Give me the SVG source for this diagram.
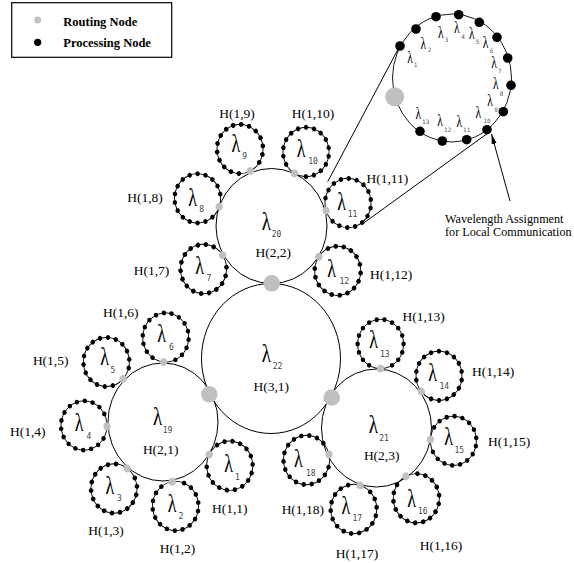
<svg xmlns="http://www.w3.org/2000/svg" xmlns:xlink="http://www.w3.org/1999/xlink" width="574" height="563" viewBox="0 0 574 563">
<style>
.lbl{font-family:"Liberation Serif","Times New Roman",serif;font-size:13.5px;fill:#000}
.lam{font-family:"Liberation Serif","Times New Roman",serif;font-size:18px;text-anchor:middle;fill:#000}
.lam2{font-size:19px}
.lamm{font-size:11.5px}
.sub{font-family:"DejaVu Sans Mono",monospace;font-size:8px;fill:#444}
.subm{font-family:"DejaVu Sans Mono",monospace;font-size:6px;fill:#555;text-anchor:middle}
.lg{font-family:"Liberation Serif","Times New Roman",serif;font-weight:bold;font-size:12.5px}
.ann{font-family:"Liberation Serif","Times New Roman",serif;font-size:12.2px}
.rn{fill:#c0c0c0}
.pn{fill:#000}
.big{fill:none;stroke:#000;stroke-width:1}
.rl{fill:none;stroke:#000;stroke-width:0.9}
.rd{fill:none;stroke:#000;stroke-width:4.5;stroke-linecap:round;stroke-dasharray:0 20 0 20 0 20 0 20 0 20 0 20 0 20 0 20 0 20 0 20 0 20 0 20 0 20 0 20 0 20 0 60;stroke-dashoffset:-30}
.ln{fill:none;stroke:#000;stroke-width:1}
</style>
<defs>
<g id="ring">
<circle r="23" class="rl"/>
<circle r="23" class="rd" pathLength="360"/>
<circle cx="23" r="3.6" class="rn"/>
</g>
<marker id="ah" markerUnits="userSpaceOnUse" markerWidth="11" markerHeight="6" refX="10" refY="3" orient="auto">
<path d="M0,0.5 L10,3 L0,5.5 z" fill="#000"/>
</marker>
</defs>

<g id="legend">
<rect x="11.7" y="2.7" width="160" height="54.6" fill="#fff" stroke="#000" stroke-width="1.2"/>
<circle cx="37.7" cy="20" r="3.5" class="rn"/>
<circle cx="37.7" cy="42.3" r="3.6" class="pn"/>
<text x="63.3" y="26" class="lg">Routing Node</text>
<text x="63.3" y="47" class="lg">Processing Node</text>
</g>

<g id="H3-1">
<ellipse cx="271" cy="358.5" rx="69.5" ry="75" class="big"/>
<text class="lam lam2" transform="translate(266.3,361.7) scale(1,1.35)">λ</text>
<text x="272.7" y="369.3" class="sub">22</text>
<text x="271.3" y="390.5" class="lbl" text-anchor="middle">H(3,1)</text>
</g>
<g id="H2-2">
<ellipse cx="271.5" cy="226" rx="55.5" ry="57.5" class="big"/>
<text class="lam lam2" transform="translate(266.3,230) scale(1,1.35)">λ</text>
<text x="271.7" y="236.7" class="sub">20</text>
<text x="273.3" y="257" class="lbl" text-anchor="middle">H(2,2)</text>
</g>
<g id="H2-1">
<ellipse cx="163" cy="422" rx="55" ry="59" class="big"/>
<text class="lam lam2" transform="translate(157.5,425) scale(1,1.35)">λ</text>
<text x="162.7" y="432.7" class="sub">19</text>
<text x="160.7" y="454.3" class="lbl" text-anchor="middle">H(2,1)</text>
</g>
<g id="H2-3">
<ellipse cx="376.5" cy="428" rx="55" ry="59" class="big"/>
<text class="lam lam2" transform="translate(373.3,433.3) scale(1,1.35)">λ</text>
<text x="379.3" y="440.7" class="sub">21</text>
<text x="381.7" y="459.7" class="lbl" text-anchor="middle">H(2,3)</text>
</g>

<g id="connectors">
<line x1="327.7" y1="181.7" x2="399.5" y2="46.5" class="ln"/>
<line x1="363" y1="223.5" x2="488" y2="133" class="ln"/>
<line x1="510" y1="201" x2="491.5" y2="134" class="ln" marker-end="url(#ah)"/>
</g>

<g id="H1-1"><use xlink:href="#ring" href="#ring" transform="translate(229.7,465.7) scale(1,1.07) rotate(-153)"/>
<text class="lam" transform="translate(228.7,471.8) scale(1,1.35)">λ</text><text x="235" y="479.5" class="sub">1</text>
<text x="212" y="513" class="lbl">H(1,1)</text></g>
<g id="H1-2"><use xlink:href="#ring" href="#ring" transform="translate(175.5,506) scale(1,1.07) rotate(-98)"/>
<text class="lam" transform="translate(172,511.5) scale(1,1.35)">λ</text><text x="178.5" y="519" class="sub">2</text>
<text x="177.5" y="553" class="lbl" text-anchor="middle">H(1,2)</text></g>
<g id="H1-3"><use xlink:href="#ring" href="#ring" transform="translate(114,488.5) scale(1,1.07) rotate(-55)"/>
<text class="lam" transform="translate(109.8,493.5) scale(1,1.35)">λ</text><text x="117" y="501" class="sub">3</text>
<text x="106" y="534.7" class="lbl" text-anchor="middle">H(1,3)</text></g>
<g id="H1-4"><use xlink:href="#ring" href="#ring" transform="translate(84,425.5) scale(1,1.07) rotate(2)"/>
<text class="lam" transform="translate(79,430.5) scale(1,1.35)">λ</text><text x="86.5" y="439" class="sub">4</text>
<text x="27.8" y="435.7" class="lbl" text-anchor="middle">H(1,4)</text></g>
<g id="H1-5"><use xlink:href="#ring" href="#ring" transform="translate(106.4,362) scale(1,1.07) rotate(44)"/>
<text class="lam" transform="translate(104.5,364.5) scale(1,1.35)">λ</text><text x="110.5" y="372.5" class="sub">5</text>
<text x="50.7" y="364.7" class="lbl" text-anchor="middle">H(1,5)</text></g>
<g id="H1-6"><use xlink:href="#ring" href="#ring" transform="translate(165.7,337.5) scale(1,1.07) rotate(95)"/>
<text class="lam" transform="translate(161.5,342) scale(1,1.35)">λ</text><text x="169" y="349.5" class="sub">6</text>
<text x="120.8" y="317" class="lbl" text-anchor="middle">H(1,6)</text></g>
<g id="H1-7"><use xlink:href="#ring" href="#ring" transform="translate(203.5,269) scale(1,1.07) rotate(-34)"/>
<text class="lam" transform="translate(199.5,274) scale(1,1.35)">λ</text><text x="206.5" y="280.5" class="sub">7</text>
<text x="151.5" y="274.7" class="lbl" text-anchor="middle">H(1,7)</text></g>
<g id="H1-8"><use xlink:href="#ring" href="#ring" transform="translate(197.6,198.3) scale(1,1.07) rotate(20)"/>
<text class="lam" transform="translate(192.5,205.5) scale(1,1.35)">λ</text><text x="199.3" y="212.3" class="sub">8</text>
<text x="145" y="202.3" class="lbl" text-anchor="middle">H(1,8)</text></g>
<g id="H1-9"><use xlink:href="#ring" href="#ring" transform="translate(240,149) scale(1,1.07) rotate(63)"/>
<text class="lam" transform="translate(235.8,151.7) scale(1,1.35)">λ</text><text x="242.3" y="159" class="sub">9</text>
<text x="237" y="117.7" class="lbl" text-anchor="middle">H(1,9)</text></g>
<g id="H1-10"><use xlink:href="#ring" href="#ring" transform="translate(306,152) scale(1,1.07) rotate(120)"/>
<text class="lam" transform="translate(301,156.7) scale(1,1.35)">λ</text><text x="308.3" y="164" class="sub">10</text>
<text x="313" y="117.7" class="lbl" text-anchor="middle">H(1,10)</text></g>
<g id="H1-11"><use xlink:href="#ring" href="#ring" transform="translate(348,203) scale(1,1.07) rotate(162)"/>
<text class="lam" transform="translate(341.7,210) scale(1,1.35)">λ</text><text x="347.7" y="217.3" class="sub">11</text>
<text x="366.5" y="182.5" class="lbl">H(1,11)</text></g>
<g id="H1-12"><use xlink:href="#ring" href="#ring" transform="translate(337.7,270.8) scale(1,1.07) rotate(-145)"/>
<text class="lam" transform="translate(331.7,276.5) scale(1,1.35)">λ</text><text x="339.5" y="283.5" class="sub">12</text>
<text x="370" y="279" class="lbl">H(1,12)</text></g>
<g id="H1-13"><use xlink:href="#ring" href="#ring" transform="translate(380.6,344) scale(1,1.07) rotate(90)"/>
<text class="lam" transform="translate(373.7,348.3) scale(1,1.35)">λ</text><text x="380" y="356.7" class="sub">13</text>
<text x="402.5" y="321" class="lbl">H(1,13)</text></g>
<g id="H1-14"><use xlink:href="#ring" href="#ring" transform="translate(439,375.8) scale(1,1.07) rotate(140)"/>
<text class="lam" transform="translate(432.7,380.5) scale(1,1.35)">λ</text><text x="439.5" y="388.5" class="sub">14</text>
<text x="472" y="375.5" class="lbl">H(1,14)</text></g>
<g id="H1-15"><use xlink:href="#ring" href="#ring" transform="translate(453.4,440.8) scale(1,1.07) rotate(-177)"/>
<text class="lam" transform="translate(448.5,444.5) scale(1,1.35)">λ</text><text x="454.5" y="452.7" class="sub">15</text>
<text x="488" y="446.3" class="lbl">H(1,15)</text></g>
<g id="H1-16"><use xlink:href="#ring" href="#ring" transform="translate(416.3,498.3) scale(1,1.07) rotate(-117)"/>
<text class="lam" transform="translate(411.5,507) scale(1,1.35)">λ</text><text x="418" y="514" class="sub">16</text>
<text x="441" y="549.7" class="lbl" text-anchor="middle">H(1,16)</text></g>
<g id="H1-17"><use xlink:href="#ring" href="#ring" transform="translate(353.7,509) scale(1,1.07) rotate(-74)"/>
<text class="lam" transform="translate(345.9,513.5) scale(1,1.35)">λ</text><text x="352.5" y="520.5" class="sub">17</text>
<text x="357" y="558" class="lbl" text-anchor="middle">H(1,17)</text></g>
<g id="H1-18"><use xlink:href="#ring" href="#ring" transform="translate(306.5,460) scale(1,1.07) rotate(-13)"/>
<text class="lam" transform="translate(298.3,467) scale(1,1.35)">λ</text><text x="306" y="475.5" class="sub">18</text>
<text x="324" y="513.7" class="lbl" text-anchor="end">H(1,18)</text></g>

<g id="rn-top"><circle cx="271.7" cy="283.3" r="8.3" class="rn"/></g>
<g id="rn-left"><circle cx="209.3" cy="394.3" r="8.3" class="rn"/></g>
<g id="rn-right"><circle cx="331.7" cy="397.5" r="8.3" class="rn"/></g>

<g id="magnified">
<ellipse cx="452" cy="78" rx="59.5" ry="64" class="rl" stroke-width="1.1"/>
<circle cx="394.7" cy="96.7" r="9.5" class="rn"/>
<circle cx="400" cy="46" r="4.8" class="pn"/>
<circle cx="416" cy="29" r="4.8" class="pn"/>
<circle cx="436" cy="16.7" r="4.8" class="pn"/>
<circle cx="458.7" cy="14.7" r="4.8" class="pn"/>
<circle cx="479.3" cy="22.3" r="4.8" class="pn"/>
<circle cx="497" cy="37.3" r="4.8" class="pn"/>
<circle cx="507.7" cy="58" r="4.8" class="pn"/>
<circle cx="511" cy="85.3" r="4.8" class="pn"/>
<circle cx="503.3" cy="111.7" r="4.8" class="pn"/>
<circle cx="487" cy="129.7" r="4.8" class="pn"/>
<circle cx="466.7" cy="139.7" r="4.8" class="pn"/>
<circle cx="442.3" cy="141" r="4.8" class="pn"/>
<circle cx="420" cy="131.3" r="4.8" class="pn"/>
<text class="lam lamm" transform="translate(410,62.5) scale(1,1.4)">λ</text><text x="415.5" y="67.2" class="subm">1</text>
<text class="lam lamm" transform="translate(423.3,48.5) scale(1,1.4)">λ</text><text x="429.5" y="52.2" class="subm">2</text>
<text class="lam lamm" transform="translate(440.7,37.5) scale(1,1.4)">λ</text><text x="446.5" y="42.2" class="subm">3</text>
<text class="lam lamm" transform="translate(456.7,33.1) scale(1,1.4)">λ</text><text x="463" y="38.9" class="subm">4</text>
<text class="lam lamm" transform="translate(471.7,39.1) scale(1,1.4)">λ</text><text x="477.5" y="44.2" class="subm">5</text>
<text class="lam lamm" transform="translate(485.5,47.5) scale(1,1.4)">λ</text><text x="491.5" y="53.2" class="subm">6</text>
<text class="lam lamm" transform="translate(494,68) scale(1,1.4)">λ</text><text x="499.8" y="73.2" class="subm">7</text>
<text class="lam lamm" transform="translate(495.7,89.1) scale(1,1.4)">λ</text><text x="501.5" y="95.5" class="subm">8</text>
<text class="lam lamm" transform="translate(490,105.8) scale(1,1.4)">λ</text><text x="496" y="111.5" class="subm">9</text>
<text class="lam lamm" transform="translate(478.3,117.5) scale(1,1.4)">λ</text><text x="487" y="123.2" class="subm">10</text>
<text class="lam lamm" transform="translate(459.3,126.5) scale(1,1.4)">λ</text><text x="466.7" y="131.9" class="subm">11</text>
<text class="lam lamm" transform="translate(440,125.8) scale(1,1.4)">λ</text><text x="447.7" y="131.9" class="subm">12</text>
<text class="lam lamm" transform="translate(418.3,118.5) scale(1,1.4)">λ</text><text x="425.7" y="124.2" class="subm">13</text>
</g>

<g id="annotation">
<text x="445" y="222.5" class="ann">Wavelength Assignment</text>
<text x="445" y="235.5" class="ann">for Local Communication</text>
</g>
</svg>
